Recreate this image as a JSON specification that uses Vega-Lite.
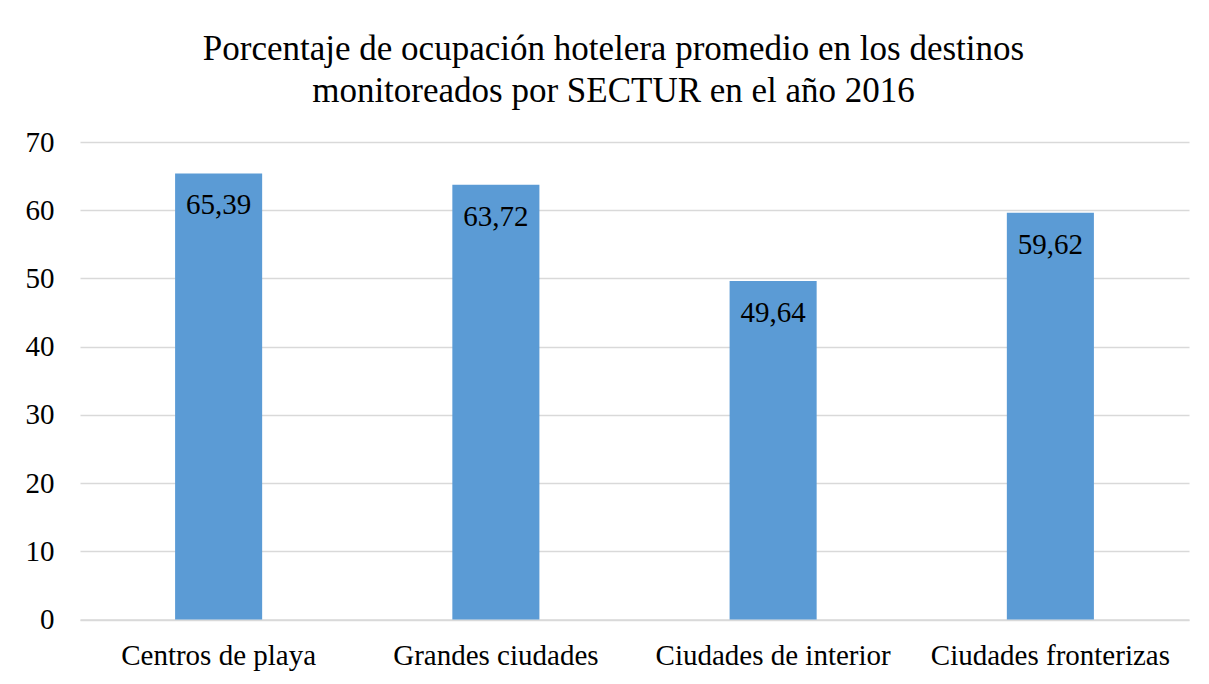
{
  "$schema": "https://vega.github.io/schema/vega-lite/v6.json",
  "width": 1109,
  "height": 477.5,
  "autosize": {"type": "none"},
  "padding": {"left": 80, "top": 142, "right": 20, "bottom": 64.5},
  "background": "white",
  "title": {
    "text": ["Porcentaje de ocupación hotelera promedio en los destinos", "monitoreados por SECTUR en el año 2016"],
    "font": "Liberation Serif",
    "fontSize": 35,
    "fontWeight": "normal",
    "color": "black",
    "lineHeight": 42,
    "anchor": "middle",
    "dx": -21,
    "offset": 19
  },
  "data": {
    "values": [
      {"categoria": "Centros de playa", "valor": 65.39, "etiqueta": "65,39"},
      {"categoria": "Grandes ciudades", "valor": 63.72, "etiqueta": "63,72"},
      {"categoria": "Ciudades de interior", "valor": 49.64, "etiqueta": "49,64"},
      {"categoria": "Ciudades fronterizas", "valor": 59.62, "etiqueta": "59,62"}
    ]
  },
  "config": {
    "view": {"stroke": null},
    "font": "Liberation Serif"
  },
  "encoding": {
    "x": {
      "field": "categoria",
      "type": "nominal",
      "sort": null,
      "scale": {"paddingInner": 0.686, "paddingOuter": 0.343},
      "axis": {
        "title": null,
        "labelAngle": 0,
        "labelFont": "Liberation Serif",
        "labelFontSize": 29,
        "labelColor": "black",
        "labelPadding": 22,
        "labelLimit": 0,
        "ticks": false,
        "domainColor": "#D9D9D9",
        "domainWidth": 1.5,
        "grid": false
      }
    },
    "y": {
      "field": "valor",
      "type": "quantitative",
      "scale": {"domain": [0, 70], "nice": false},
      "axis": {
        "title": null,
        "values": [0, 10, 20, 30, 40, 50, 60, 70],
        "labelFont": "Liberation Serif",
        "labelFontSize": 29,
        "labelColor": "black",
        "labelPadding": 26,
        "ticks": false,
        "domain": false,
        "gridColor": "#D9D9D9",
        "gridWidth": 1.5
      }
    }
  },
  "layer": [
    {"mark": {"type": "bar", "color": "#5B9BD5"}},
    {
      "mark": {"type": "text", "baseline": "middle", "dy": 32, "font": "Liberation Serif", "fontSize": 29, "color": "black"},
      "encoding": {"text": {"field": "etiqueta"}}
    }
  ]
}
